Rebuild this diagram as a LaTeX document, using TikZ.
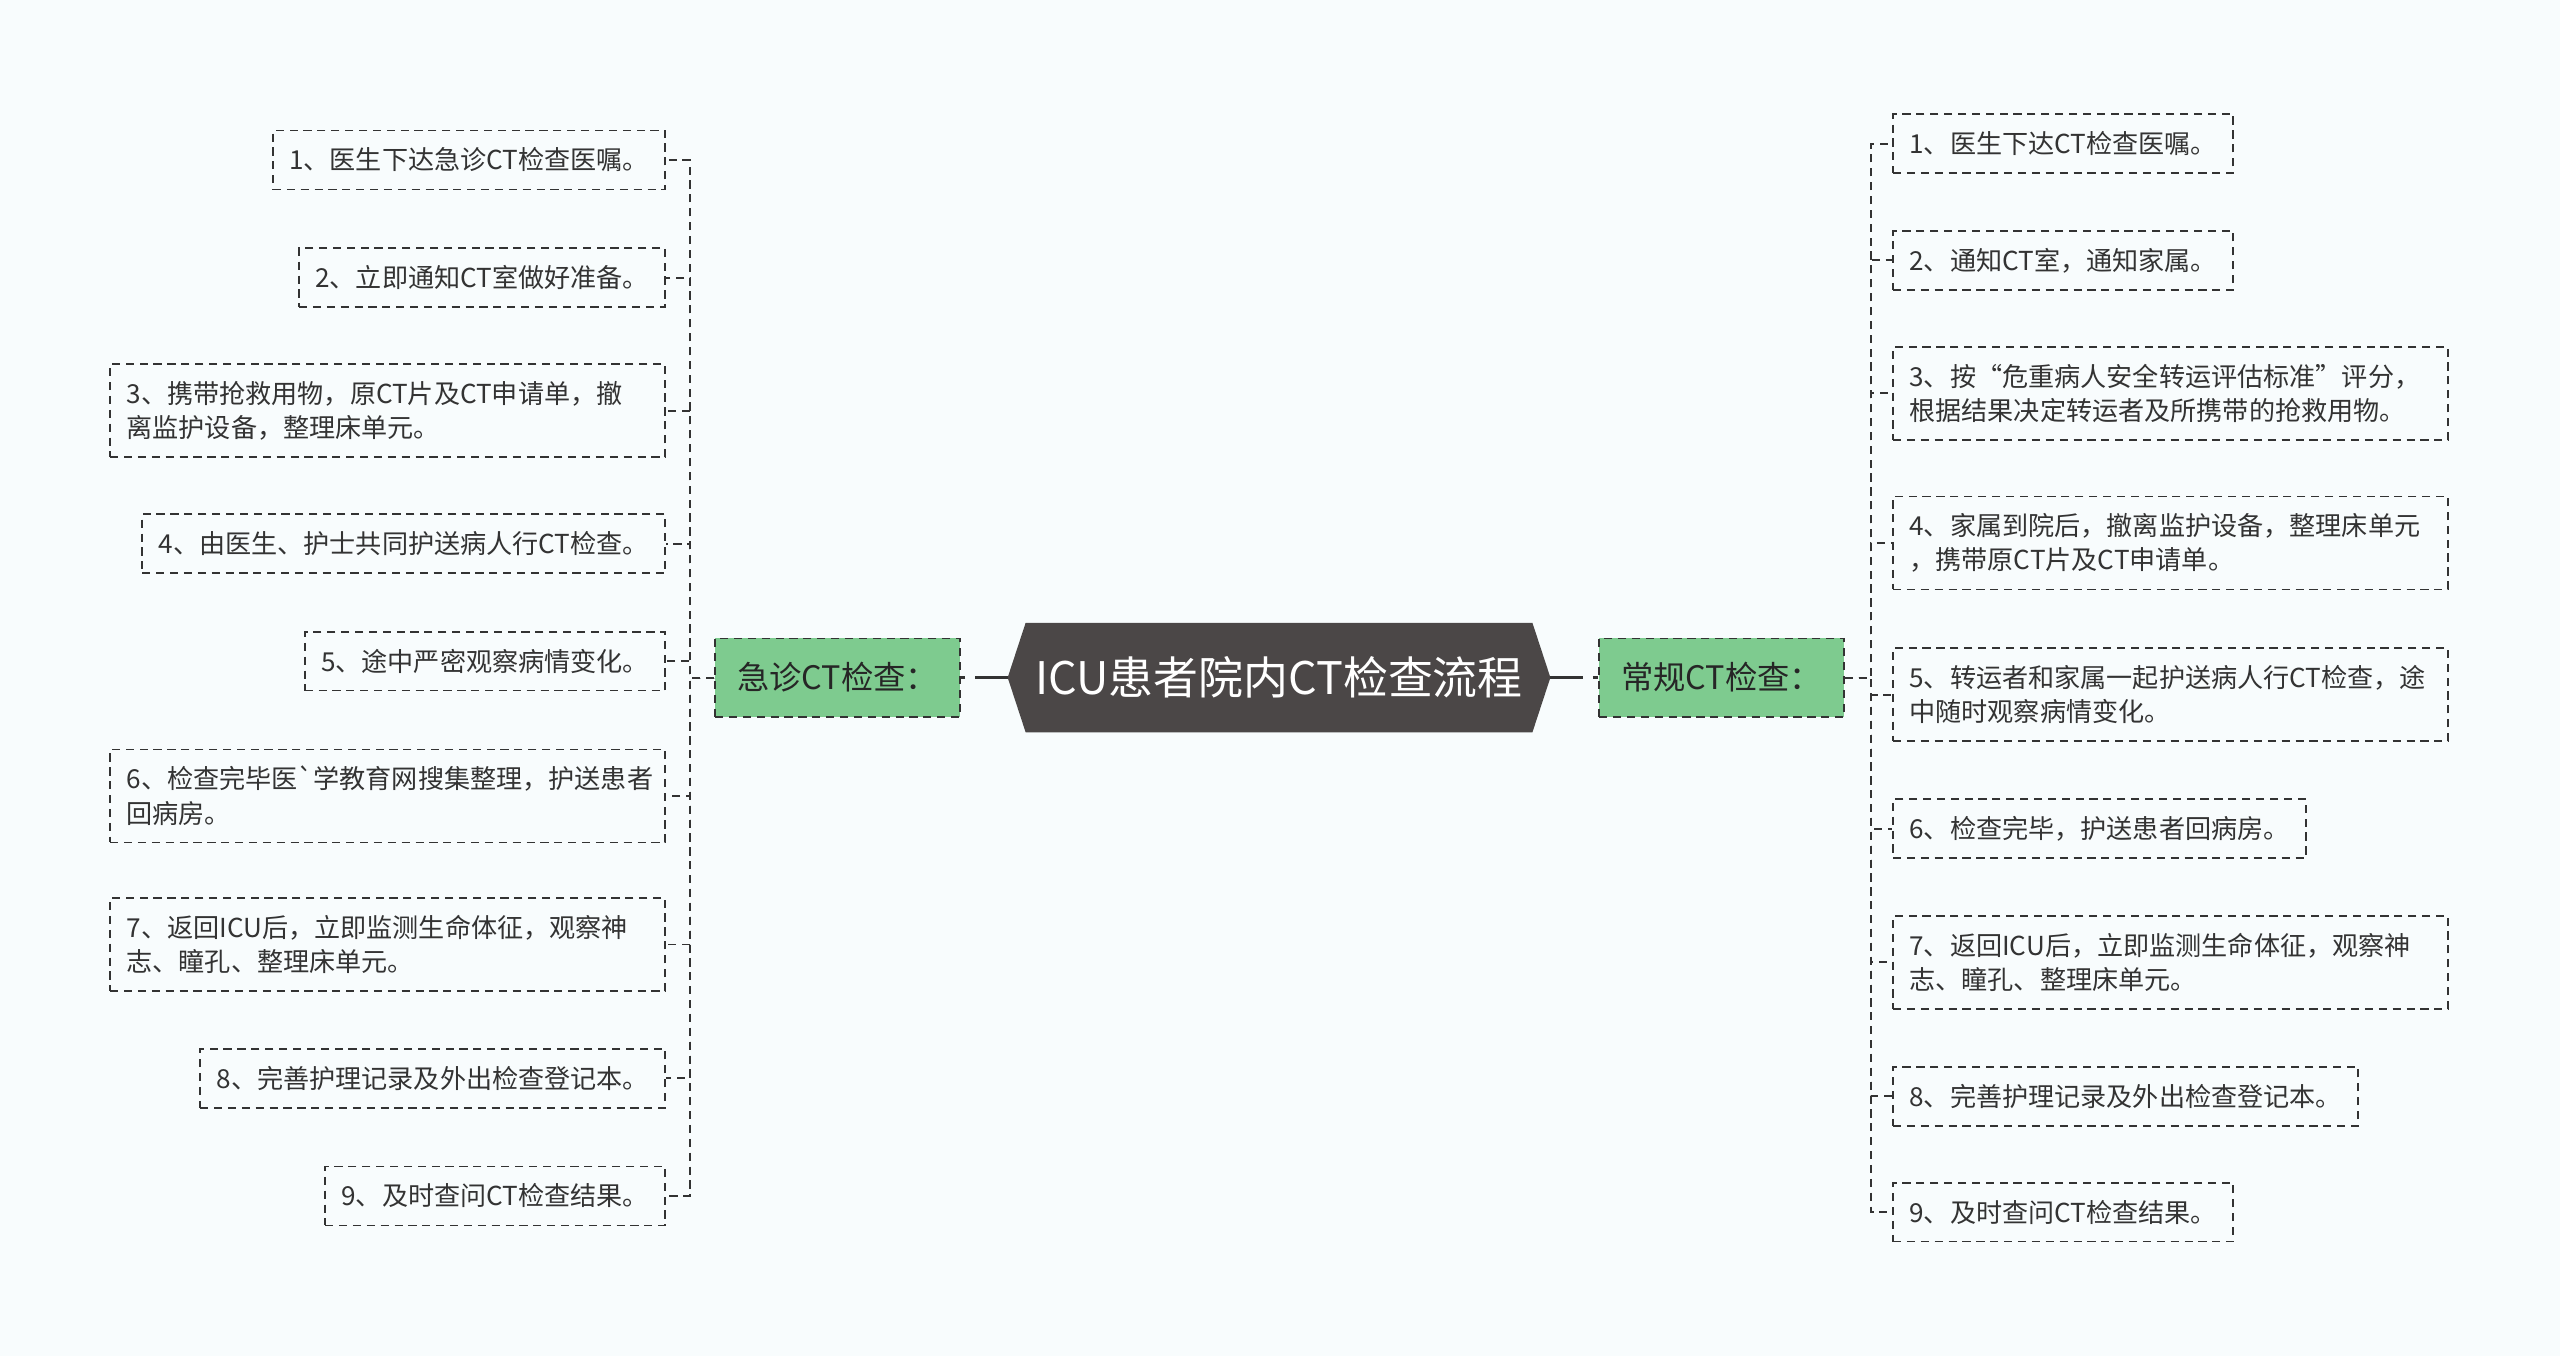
\documentclass[tikz,border=0pt]{standalone}
\usepackage{fontspec}
\newfontfamily\cjk{Noto Sans CJK SC}
\usepackage{tikz}
\usetikzlibrary{backgrounds}
\definecolor{bgcol}{RGB}{248,252,253}
\definecolor{titlecol}{RGB}{75,71,71}
\definecolor{greencol}{RGB}{126,203,143}
\definecolor{linecol}{RGB}{51,51,51}
\newcommand\leafstrut{\rule[-4.4bp]{0pt}{21bp}}
\tikzstyle{title} = [font=\cjk\fontsize{27.5bp}{32bp}\selectfont, text=white, minimum width=310bp, minimum height=66.7bp, inner sep=0pt]
\tikzstyle{branch} = [font=\cjk\fontsize{19.8bp}{24bp}\selectfont, text=black!85, fill=greencol, draw=linecol, dash pattern=on 5bp off 3.5bp, line width=1bp, minimum width=150bp, minimum height=48bp, inner sep=0pt]
\tikzstyle{leaf} = [font=\cjk\fontsize{16bp}{21bp}\selectfont, text=linecol, draw=linecol, dash pattern=on 5bp off 3.5bp, line width=1bp, inner xsep=10bp, inner ysep=7.5bp, align=left, execute at begin node=\leafstrut, execute at end node=\leafstrut]
\tikzstyle{wide} = [text width=320bp]
\tikzstyle{link} = [draw=linecol, line width=1.2bp, dash pattern=on 5bp off 3.5bp]
\tikzstyle{stem} = [draw=linecol, line width=1.6bp, dash pattern=on 20bp off 6bp]
\begin{document}
\begin{tikzpicture}[x=1bp, y=-1bp]
	\useasboundingbox (0,0) rectangle (1568,830.6);
	\node[title] (title) at (783.4,415) {ICU患者院内CT检查流程};
	\node[branch] (jz) at (513,415) {急诊CT检查：};
	\node[branch] (cg) at (1054.5,415) {常规CT检查：};

	\node[leaf, anchor=east] (l1) at (408,98) {1、医生下达急诊CT检查医嘱。};
	\node[leaf, anchor=east] (l2) at (408,170) {2、立即通知CT室做好准备。};
	\node[leaf, wide, anchor=east] (l3) at (408,251.5) {3、携带抢救用物，原CT片及CT申请单，撤\\离监护设备，整理床单元。};
	\node[leaf, anchor=east] (l4) at (408,333) {4、由医生、护士共同护送病人行CT检查。};
	\node[leaf, anchor=east] (l5) at (408,405) {5、途中严密观察病情变化。};
	\node[leaf, wide, anchor=east] (l6) at (408,487.5) {6、检查完毕医`学教育网搜集整理，护送患者\\回病房。};
	\node[leaf, wide, anchor=east] (l7) at (408,578.5) {7、返回ICU后，立即监测生命体征，观察神\\志、瞳孔、整理床单元。};
	\node[leaf, anchor=east] (l8) at (408,660.5) {8、完善护理记录及外出检查登记本。};
	\node[leaf, anchor=east] (l9) at (408,732.5) {9、及时查问CT检查结果。};

	\node[leaf, anchor=west] (r1) at (1159,88) {1、医生下达CT检查医嘱。};
	\node[leaf, anchor=west] (r2) at (1159,159.5) {2、通知CT室，通知家属。};
	\node[leaf, wide, anchor=west] (r3) at (1159,241) {3、按“危重病人安全转运评估标准”评分，\\根据结果决定转运者及所携带的抢救用物。};
	\node[leaf, wide, anchor=west] (r4) at (1159,332.5) {4、家属到院后，撤离监护设备，整理床单元\\，携带原CT片及CT申请单。};
	\node[leaf, wide, anchor=west] (r5) at (1159,425.5) {5、转运者和家属一起护送病人行CT检查，途\\中随时观察病情变化。};
	\node[leaf, anchor=west] (r6) at (1159,507.5) {6、检查完毕，护送患者回病房。};
	\node[leaf, wide, anchor=west] (r7) at (1159,589.5) {7、返回ICU后，立即监测生命体征，观察神\\志、瞳孔、整理床单元。};
	\node[leaf, anchor=west] (r8) at (1159,671.5) {8、完善护理记录及外出检查登记本。};
	\node[leaf, anchor=west] (r9) at (1159,742.5) {9、及时查问CT检查结果。};

	\begin{scope}[on background layer]
		\fill[bgcol] (0,0) rectangle (1568,830.6);
		\fill[titlecol] (title.north west) -- (title.north east) -- ([xshift=11bp]title.east)
			-- (title.south east) -- (title.south west) -- ([xshift=-11bp]title.west) -- cycle;
	\end{scope}

	\draw[stem] ([xshift=-11bp]title.west) -- (jz.east);
	\draw[stem] ([xshift=11bp]title.east) -- (cg.west);
	\foreach \i in {1,...,9} {
		\draw[link] (jz.west) -- ++(-15bp,0) |- (l\i.east);
		\draw[link] (cg.east) -- ++(16bp,0) |- (r\i.west);
	}
\end{tikzpicture}
\end{document}
